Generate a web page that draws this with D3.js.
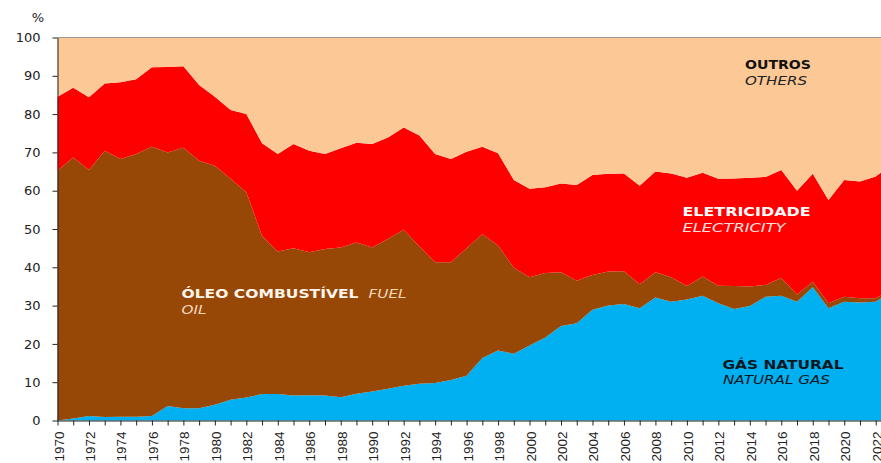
<!DOCTYPE html>
<html>
<head>
<meta charset="utf-8">
<script src="https://cdn.jsdelivr.net/npm/d3@7"></script>
<style>
  body { margin: 0; background: #fff; }
  svg text { font-family: "DejaVu Sans", Verdana, sans-serif; }
</style>
</head>
<body>
<svg width="881" height="463"></svg>
<script>
// 1970 .. 2023 (2023 only partly visible at the right edge)
const years = d3.range(1970, 2024);

const gas = [0.0, 0.5, 1.2, 0.9, 1.0, 1.0, 1.2, 3.8, 3.2, 3.2,
  4.1, 5.4, 6.0, 6.9, 6.9, 6.5, 6.6, 6.5, 6.1, 7.0,
  7.6, 8.3, 9.1, 9.6, 9.8, 10.6, 11.7, 16.3, 18.3, 17.4,
  19.6, 21.7, 24.7, 25.4, 28.9, 30.0, 30.4, 29.3, 32.1, 31.0,
  31.6, 32.6, 30.6, 29.1, 29.9, 32.3, 32.6, 31.0, 34.8, 29.3,
  31.0, 30.8, 31.0, 33.8];

const oil = [65.2, 68.2, 64.2, 69.5, 67.3, 68.6, 70.3, 66.2, 68.0, 64.6,
  62.4, 57.7, 53.6, 41.3, 37.2, 38.5, 37.3, 38.3, 39.1, 39.5,
  37.6, 39.1, 40.7, 35.8, 31.5, 30.7, 33.3, 32.3, 27.4, 22.5,
  17.8, 16.8, 14.0, 11.1, 9.1, 8.9, 8.6, 6.3, 6.6, 6.4,
  3.5, 5.0, 4.6, 6.0, 5.1, 3.1, 4.6, 1.9, 1.4, 1.3,
  1.3, 1.1, 0.9, 0.3];

const elec = [19.3, 18.2, 19.0, 17.6, 20.0, 19.5, 20.7, 22.3, 21.3, 19.8,
  18.0, 18.0, 20.4, 24.2, 25.5, 27.2, 26.5, 24.8, 25.9, 26.0,
  27.0, 26.5, 26.7, 29.0, 28.3, 27.0, 25.2, 22.9, 24.1, 22.9,
  23.1, 22.4, 23.2, 25.0, 26.1, 25.5, 25.5, 25.7, 26.3, 27.1,
  28.3, 27.1, 27.9, 28.1, 28.4, 28.2, 28.2, 27.1, 28.2, 27.0,
  30.5, 30.5, 31.8, 32.7];

const others = [15.5, 13.1, 15.6, 12.0, 11.7, 10.9, 7.8, 7.7, 7.5, 12.4,
  15.5, 18.9, 20.0, 27.6, 30.4, 27.8, 29.6, 30.4, 28.9, 27.5,
  27.8, 26.1, 23.5, 25.6, 30.4, 31.7, 29.8, 28.5, 30.2, 37.2,
  39.5, 39.1, 38.1, 38.5, 35.9, 35.6, 35.5, 38.7, 35.0, 35.5,
  36.6, 35.3, 36.9, 36.8, 36.6, 36.4, 34.6, 40.0, 35.6, 42.4,
  37.2, 37.6, 36.3, 33.2];

const seriesKeys = ['gas', 'oil', 'elec', 'others'];
const colors = { gas: '#00B0F0', oil: '#974706', elec: '#FF0000', others: '#FCC896' };

const yTicks = d3.range(0, 101, 10);
const xLabelYears = d3.range(1970, 2023, 2);
const xTickYears = d3.range(1970, 2023);

const table = years.map((yr, i) => ({
  year: yr, gas: gas[i], oil: oil[i], elec: elec[i], others: others[i]
}));

const svg = d3.select('svg');
const mLeft = 57.5, mTop = 37.5, mBottom = 420.5;

const x = d3.scaleLinear().domain([1970, 2022]).range([mLeft, 875.7]);
const y = d3.scaleLinear().domain([0, 100]).range([mBottom, mTop]);

const stacked = d3.stack().keys(seriesKeys)(table);

const area = d3.area()
  .x(d => x(d.data.year))
  .y0(d => y(d[0]))
  .y1(d => y(d[1]));

svg.append('g')
  .selectAll('path')
  .data(stacked)
  .enter()
  .append('path')
    .attr('d', area)
    .attr('fill', d => colors[d.key]);

// top frame line
svg.append('line')
  .attr('x1', mLeft).attr('x2', 881)
  .attr('y1', mTop).attr('y2', mTop)
  .attr('stroke', '#9a9a9a');

// y axis
const yAxis = svg.append('g')
  .attr('transform', `translate(${mLeft},0)`)
  .call(d3.axisLeft(y).tickValues(yTicks).tickSize(5).tickSizeOuter(0).tickPadding(12));
yAxis.select('.domain').attr('stroke', '#222');
yAxis.selectAll('line').attr('stroke', '#222');
yAxis.selectAll('text')
  .attr('font-size', 13)
  .attr('fill', '#222')
  .style('font-family', '"DejaVu Sans", Verdana, sans-serif');

svg.append('text')
  .attr('x', 38).attr('y', 22)
  .attr('text-anchor', 'middle')
  .attr('font-size', 13)
  .attr('fill', '#222')
  .text('%');

// x axis
const xAxis = svg.append('g')
  .attr('transform', `translate(0,${mBottom})`)
  .call(d3.axisBottom(x).tickValues(xTickYears).tickSize(5).tickSizeOuter(0).tickFormat(''));
xAxis.select('.domain').attr('d', `M${mLeft},0.5H881`).attr('stroke', '#222');
xAxis.selectAll('line').attr('stroke', '#222');

svg.append('g')
  .selectAll('text')
  .data(xLabelYears)
  .enter()
  .append('text')
    .attr('transform', d => `translate(${x(d) + 6},${mBottom + 11}) rotate(-90)`)
    .attr('text-anchor', 'end')
    .attr('font-size', 13.5)
    .attr('fill', '#222')
    .style('font-family', '"Liberation Sans", Arial, sans-serif')
    .text(d => d);

// series labels
const labels = [
  { t: 'ÓLEO COMBUSTÍVEL', x: 181.5, y: 297.5, bold: true, fill: '#FFF6EE', w: 177 },
  { t: 'FUEL', x: 368.5, y: 297.5, bold: false, fill: '#F2D6BC', w: 38 },
  { t: 'OIL', x: 181.5, y: 314, bold: false, fill: '#F2D6BC', w: 25 },
  { t: 'ELETRICIDADE', x: 682.5, y: 216, bold: true, fill: '#FFFFFF', w: 128 },
  { t: 'ELECTRICITY', x: 682.5, y: 232, bold: false, fill: '#FFE0E0', w: 103 },
  { t: 'GÁS NATURAL', x: 722.5, y: 368.5, bold: true, fill: '#0A1620', w: 121 },
  { t: 'NATURAL GAS', x: 723, y: 383.5, bold: false, fill: '#0A1620', w: 107 },
  { t: 'OUTROS', x: 745, y: 69, bold: true, fill: '#111111', w: 66 },
  { t: 'OTHERS', x: 745, y: 85, bold: false, fill: '#222222', w: 62 }
];

svg.append('g')
  .selectAll('text')
  .data(labels)
  .enter()
  .append('text')
    .attr('x', d => d.x)
    .attr('y', d => d.y)
    .attr('font-size', 13)
    .attr('font-weight', d => d.bold ? 'bold' : 'normal')
    .attr('font-style', d => d.bold ? 'normal' : 'italic')
    .attr('fill', d => d.fill)
    .attr('textLength', d => d.w)
    .attr('lengthAdjust', 'spacingAndGlyphs')
    .text(d => d.t);
</script>
</body>
</html>
